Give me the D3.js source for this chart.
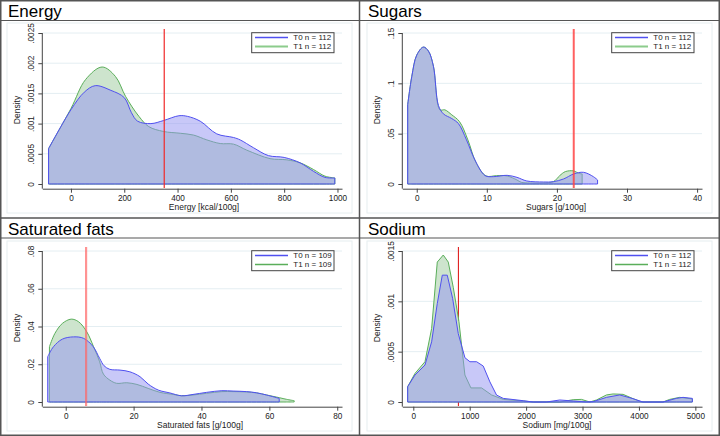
<!DOCTYPE html>
<html><head><meta charset="utf-8">
<script src="https://cdn.jsdelivr.net/npm/d3@7"></script>
<style>body{margin:0;background:#fff} svg{display:block;font-family:"Liberation Sans",Arial,sans-serif}</style>
</head><body><svg id="c" width="720" height="436"></svg>
<script>
const titles = ["Energy","Sugars","Saturated fats","Sodium"];
const xTitles = ["Energy [kcal/100g]","Sugars [g/100g]","Saturated fats [g/100g]","Sodium [mg/100g]"];
const legendN = [[112,112],[112,112],[109,109],[112,112]];
const cutoffs = [350, 22.4, 6, 800];
const xTicks = [[0,200,400,600,800,1000],[0,10,20,30,40],[0,20,40,60,80],[0,1000,2000,3000,4000,5000]];
const yTicks = [[0,.0005,.001,.0015,.002,.0025],[0,.05,.1,.15],[0,.02,.04,.06,.08],[0,.0005,.001,.0015]];
const xDomains = [[-107.5,1017],[-2.06,40.7],[-6.9,81.4],[-195,5118]];

const energyT0 = [[-84,.000585],[0,.00123],[50,.00152],[91,.001628],[150,.00155],[200,.00143],[227,.00118],[250,.00104],[300,.00100],[347,.00105],[405,.00113],[437,.00112],[485,.00104],[547,.00083],[610,.00077],[635,.00073],[685,.00060],[741,.00047],[800,.00044],[860,.00035],[910,.00021],[953,.00011],[990,.00010]];
const energyT1 = [[-84,.000585],[0,.00125],[55,.00173],[117,.001937],[167,.00178],[205,.00145],[255,.00112],[292,.00095],[347,.00087],[410,.00084],[460,.00081],[510,.00073],[560,.00067],[610,.00066],[660,.00056],[747,.00042],[810,.00040],[860,.00035],[910,.00024],[953,.00013],[990,.00010]];
const sugarsT0 = [[-1.29,.0787],[-0.7,.107],[0,.128],[0.95,.136],[1.67,.132],[2.38,.117],[3.1,.078],[3.8,.0697],[5.0,.065],[5.95,.060],[7.1,.0438],[8.3,.0239],[9.76,.0083],[10.95,.0073],[12.9,.0086],[14.3,.0066],[15.7,.003],[18.1,.002],[19.5,.0023],[20.95,.005],[22.4,.010],[23.8,.0116],[25.2,.0073],[25.8,.004]];
const sugarsT1 = [[-1.29,.0787],[-0.7,.107],[0,.128],[0.95,.136],[1.67,.132],[2.38,.117],[3.3,.0737],[4.0,.0737],[5.0,.0687],[6.1,.062],[7.3,.0438],[8.5,.0206],[9.9,.008],[11.4,.0083],[12.9,.008],[14.3,.004],[14.9,.0017],[16.1,.001],[18,.001],[19.5,.0023],[20.4,.0083],[21.2,.0123],[22.4,.013],[23.1,.0106],[23.6,.010]];
const satT0 = [[-5.3,.024],[-3.6,.0293],[-1.0,.0333],[2.3,.0345],[5.3,.0337],[8.1,.0293],[10,.0231],[11.3,.0192],[13,.0173],[16,.0169],[18.9,.016],[21.9,.0134],[24.3,.0095],[27.3,.0063],[30.7,.0048],[34.1,.0033],[37.5,.004],[41.5,.0051],[46,.006],[49.3,.0058],[53.3,.0055],[56.2,.0049],[59.2,.0037],[62.9,.0019]];
const satT1 = [[-4.8,.0293],[-3.2,.0363],[-1.0,.0416],[1.6,.0439],[3.8,.0425],[6.2,.0372],[8.2,.0293],[10,.0213],[11.1,.0148],[13,.0116],[15,.0099],[18,.0102],[21,.0093],[24.3,.0072],[27.8,.0051],[31.7,.004],[34.1,.0033],[37.5,.0037],[41.5,.0046],[46,.0055],[49.3,.0055],[53.3,.0053],[56.2,.0048],[59.2,.0037],[62.9,.0023],[65.1,.0014],[67.3,.0007]];
const sodiumT0 = [[-100,.000152],[30,.000268],[207,.000367],[325,.000598],[425,.000978],[514,.00126],[602,.00126],[697,.00103],[797,.00068],[915,.00044],[1004,.00040],[1122,.00040],[1240,.000357],[1358,.00020],[1476,.000069],[1594,.000036],[1948,.000013],[2125,0],[2361,0],[2597,.00002],[2834,.00001],[3070,0],[3188,.000003],[3424,.000046],[3660,.00007],[3896,.000033],[4073,0],[4427,0],[4664,.000036],[4782,.000046],[4947,.000036]];
const sodiumT1 = [[-100,.000152],[30,.000284],[207,.00040],[325,.00073],[425,.00139],[531,.00146],[620,.00139],[708,.00114],[809,.00080],[915,.000268],[1021,.00014],[1210,.00014],[1387,.00007],[1594,.000026],[1948,.00001],[2125,0],[2600,0],[2834,.000023],[2981,.000026],[3129,0],[3247,.00002],[3424,.00007],[3542,.00008],[3719,.000076],[3896,.000033],[4043,0],[4427,0],[4545,.000026],[4722,.000046],[4947,.00003]];

const seriesT0 = [energyT0, sugarsT0, satT0, sodiumT0];
const seriesT1 = [energyT1, sugarsT1, satT1, sodiumT1];

const svg = d3.select("#c");
const PW = 360, PH = 218;
const fmtY = d => d === 0 ? "0" : String(d).replace(/^0/, "");
const xTitleCenters = [204, 196, 200, 197];
const redStyles = [
  {c:"#f02828", w:1.2, o:1, top:true},
  {c:"#ff4545", w:2, o:0.85, top:true},
  {c:"#ff6666", w:2.2, o:0.7, top:true},
  {c:"#e02020", w:1.1, o:1, top:false}
];

titles.forEach((t, i) => {
  const ox = (i % 2) * PW, oy = Math.floor(i / 2) * PH;
  const g = svg.append("g").attr("transform", `translate(${ox},${oy})`);
  g.append("rect").attr("x", 7).attr("y", 23).attr("width", 345).attr("height", 190)
    .attr("fill", "none").attr("stroke", "#e6eef0").attr("stroke-width", 1);
  const x = d3.scaleLinear().domain(xDomains[i]).range([42.3, 342]);
  const ymax = yTicks[i][yTicks[i].length - 1];
  const y = d3.scaleLinear().domain([0, ymax]).range([184, 33]);
  g.selectAll(".grid").data(yTicks[i].filter(d => d > 0)).join("line")
    .attr("x1", 42.3).attr("x2", 342).attr("y1", d => y(d)).attr("y2", d => y(d))
    .attr("stroke", "#e4eef2").attr("stroke-width", 1);
  const rs = redStyles[i];
  const drawRed = () => g.append("line").attr("x1", x(cutoffs[i])).attr("x2", x(cutoffs[i]))
    .attr("y1", 29).attr("y2", 188).attr("stroke", rs.c).attr("stroke-width", rs.w).attr("opacity", rs.o);
  if (!rs.top) drawRed();
  const curve = i === 3 ? d3.curveLinear : d3.curveCatmullRom.alpha(0.5);
  const area = d3.area().x(d => x(d[0])).y0(y(0)).y1(d => y(d[1])).curve(curve);
  g.append("path").attr("d", area(seriesT1[i])).attr("fill", "#cde4cd")
    .attr("stroke", "#5aae5a").attr("stroke-width", 1).attr("stroke-linejoin", "round");
  g.append("path").attr("d", area(seriesT0[i])).attr("fill", "rgb(149,149,242)").attr("fill-opacity", 0.52)
    .attr("stroke", "#5050f0").attr("stroke-width", 1).attr("stroke-linejoin", "round");
  if (rs.top) drawRed();
  const xa = g.append("g").attr("transform", "translate(0,188.7)")
    .call(d3.axisBottom(x).tickValues(xTicks[i]).tickFormat(d3.format("d")).tickSize(4).tickPadding(2).tickSizeOuter(0));
  xa.select(".domain").attr("stroke", "#444");
  xa.selectAll(".tick line").attr("stroke", "#444");
  xa.selectAll(".tick text").attr("font-size", 8.2).attr("fill", "#222").attr("font-family", "Liberation Sans, Arial, sans-serif");
  const ya = g.append("g").attr("transform", "translate(42.3,0)")
    .call(d3.axisLeft(y).tickValues(yTicks[i]).tickFormat(fmtY).tickSize(4).tickSizeOuter(0));
  ya.select(".domain").attr("d", `M0,${y(ymax)}V188.7`).attr("stroke", "#444");
  ya.selectAll(".tick line").attr("stroke", "#444");
  ya.selectAll(".tick text").attr("font-size", 8.2).attr("fill", "#222")
    .attr("font-family", "Liberation Sans, Arial, sans-serif")
    .attr("text-anchor", "middle").attr("x", 0).attr("y", 0).attr("dy", "0")
    .attr("transform", "translate(-8,0) rotate(-90)");
  g.append("text").attr("x", xTitleCenters[i]).attr("y", 209.5).attr("text-anchor", "middle")
    .attr("font-size", 8.5).attr("fill", "#222").text(xTitles[i]);
  g.append("text").attr("transform", "translate(20,110) rotate(-90)").attr("text-anchor", "middle")
    .attr("font-size", 8.5).attr("fill", "#222").text("Density");
  const lg = g.append("g");
  lg.append("rect").attr("x", 251.7).attr("y", 32.7).attr("width", 82.3).attr("height", 20)
    .attr("fill", "#fff").attr("stroke", "#444").attr("stroke-width", 1);
  lg.append("line").attr("x1", 255).attr("x2", 288).attr("y1", 37.5).attr("y2", 37.5)
    .attr("stroke", "#5050f0").attr("stroke-width", 1.3);
  lg.append("line").attr("x1", 255).attr("x2", 288).attr("y1", 46.5).attr("y2", 46.5)
    .attr("stroke", i < 2 ? "#8ccc8c" : "#5aae5a").attr("stroke-width", i < 2 ? 2.2 : 1.3);
  lg.append("text").attr("x", 293.3).attr("y", 40.4).attr("font-size", 8).attr("fill", "#222").text(`T0 n = ${legendN[i][0]}`);
  lg.append("text").attr("x", 293.3).attr("y", 49.4).attr("font-size", 8).attr("fill", "#222").text(`T1 n = ${legendN[i][1]}`);
  g.append("text").attr("x", 8).attr("y", 16.8).attr("font-size", 17).attr("fill", "#000").text(t);
});
svg.append("rect").attr("x", 0.75).attr("y", 0.75).attr("width", 718.5).attr("height", 434.5)
  .attr("fill", "none").attr("stroke", "#555").attr("stroke-width", 1.5);
svg.append("line").attr("x1", 359.5).attr("x2", 359.5).attr("y1", 0).attr("y2", 436).attr("stroke", "#555").attr("stroke-width", 1.5);
svg.append("line").attr("x1", 0).attr("x2", 720).attr("y1", 218).attr("y2", 218).attr("stroke", "#555").attr("stroke-width", 1.5);
svg.append("line").attr("x1", 0).attr("x2", 720).attr("y1", 20.5).attr("y2", 20.5).attr("stroke", "#555").attr("stroke-width", 1.2);
svg.append("line").attr("x1", 0).attr("x2", 720).attr("y1", 238).attr("y2", 238).attr("stroke", "#555").attr("stroke-width", 1.2);
</script></body></html>
